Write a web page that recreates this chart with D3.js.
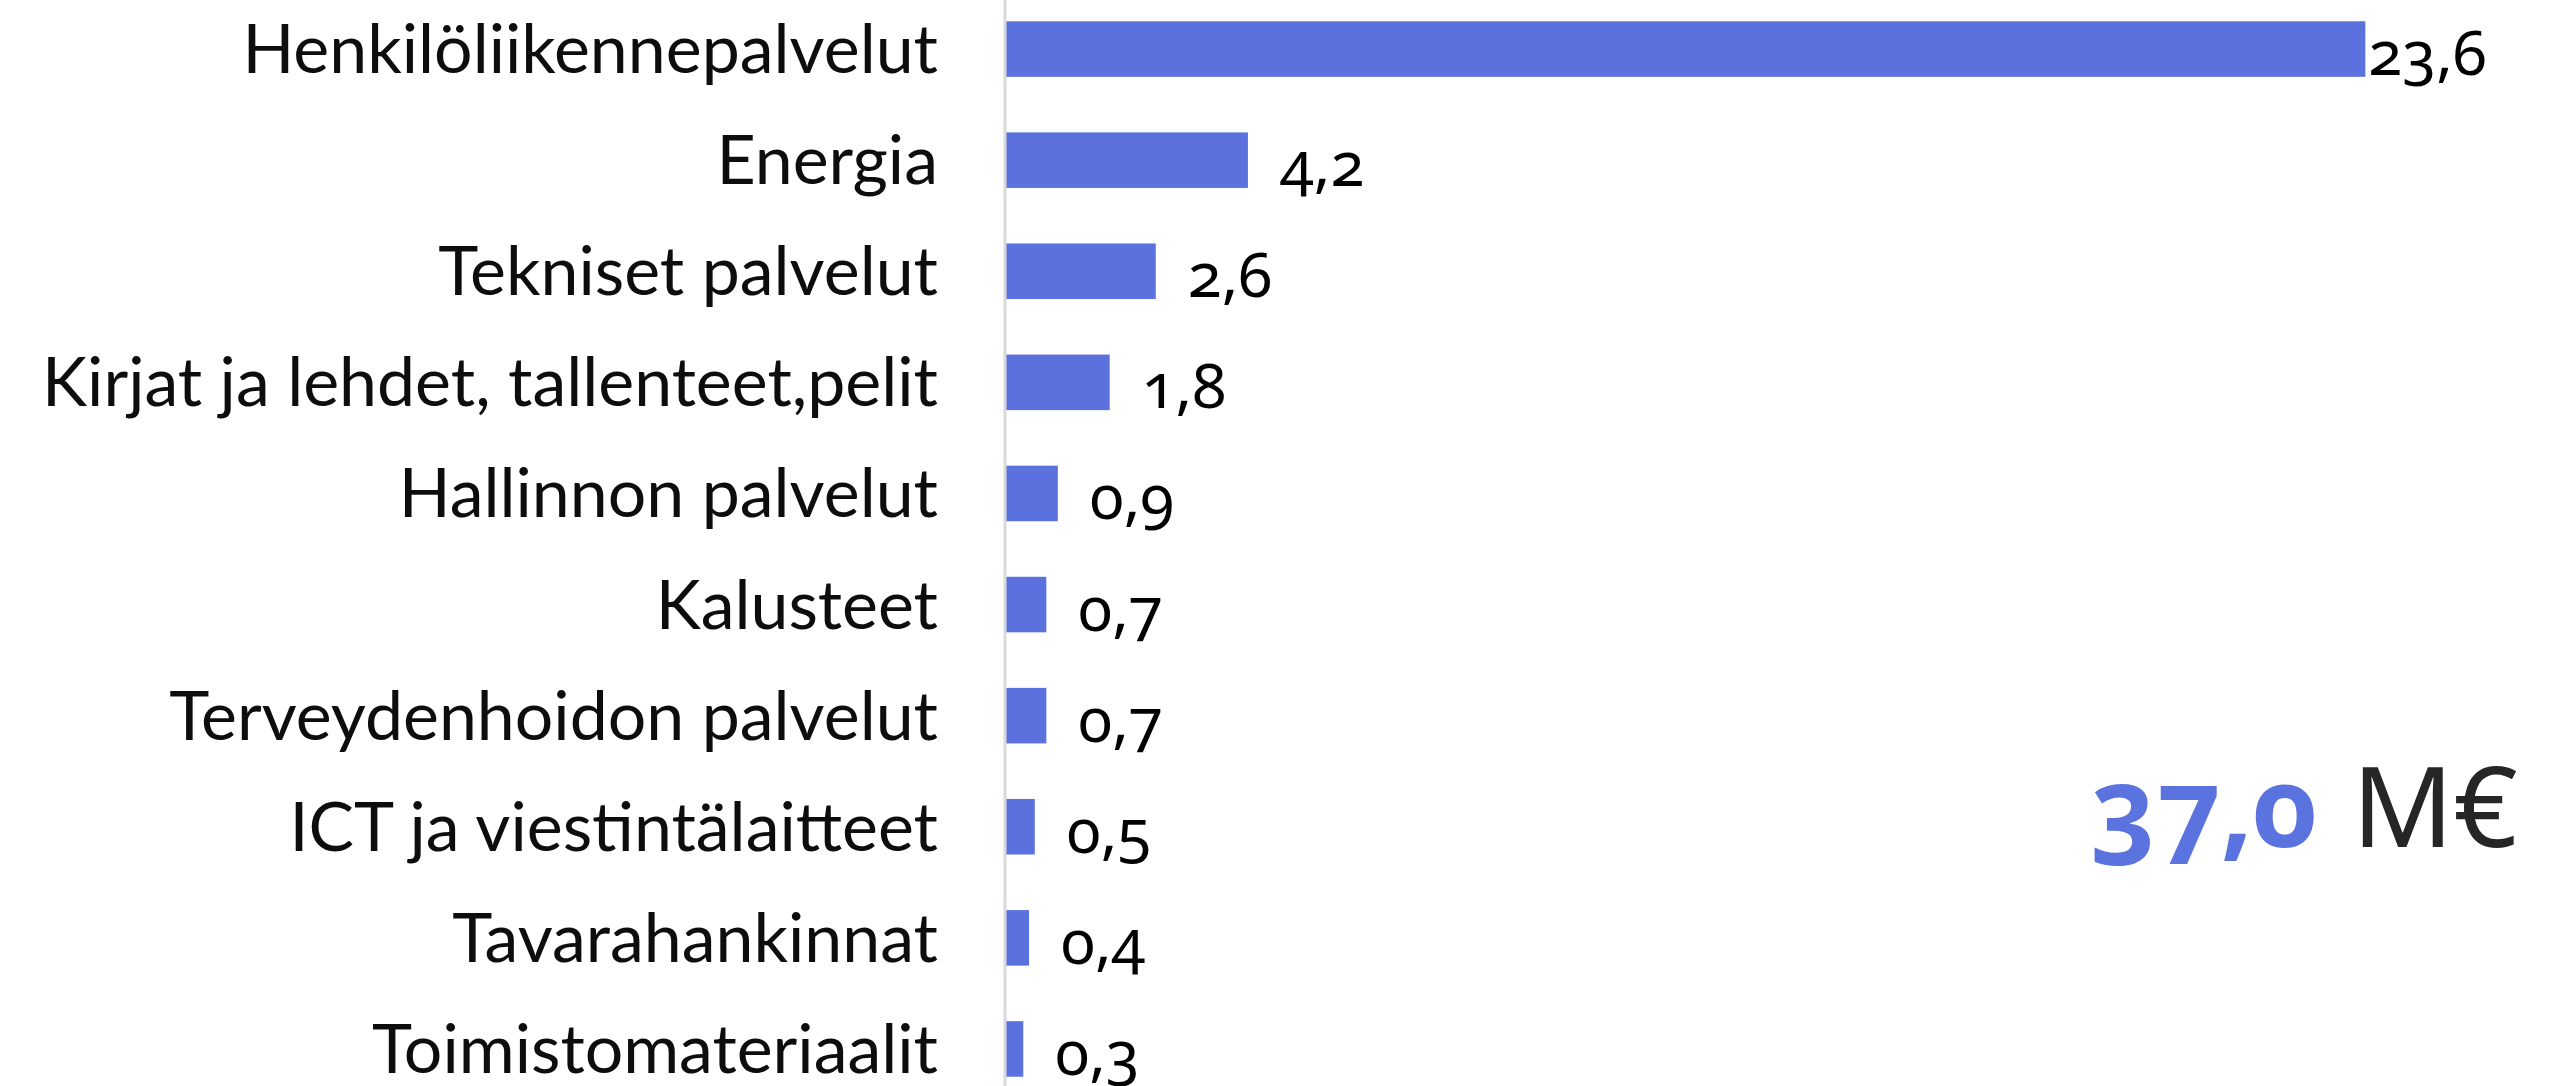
<!DOCTYPE html>
<html>
<head>
<meta charset="utf-8">
<script src="https://cdn.jsdelivr.net/npm/d3@7"></script>
<style>
  html, body { margin: 0; padding: 0; background: #fff; }
  .cat { font-family: "Liberation Sans Narrow", Lato, sans-serif; font-size: 68px; fill: #0d0d0d; }
  .val { font-family: "Noto Sans", Lato, sans-serif; font-size: 62px; fill: #000; font-variant-numeric: oldstyle-nums; }
  .total { font-family: "Noto Sans", Lato, sans-serif; font-size: 112px; font-variant-numeric: oldstyle-nums; }
</style>
</head>
<body>
<div id="chart"></div>
<script>
// categories (top to bottom) and values in M€
var categories = ["Henkilöliikennepalvelut", "Energia", "Tekniset palvelut",
  "Kirjat ja lehdet, tallenteet,pelit", "Hallinnon palvelut", "Kalusteet",
  "Terveydenhoidon palvelut", "ICT ja viestintälaitteet", "Tavarahankinnat",
  "Toimistomateriaalit"];
var values = [23.6, 4.2, 2.6, 1.8, 0.9, 0.7, 0.7, 0.5, 0.4, 0.3];
var totalValue = 37.0;
var totalUnit = "M€";

var width = 2566, height = 1086;
var margin = {top: -6.5, left: 1006};

var fi = d3.formatLocale({decimal: ",", thousands: " ", grouping: [3], currency: ["", "€"]});
var fmt = fi.format(".1f");

var svg = d3.select("#chart")
  .append("svg")
    .attr("width", width)
    .attr("height", height);

var x = d3.scaleLinear()
  .domain([0, 25])
  .range([margin.left, margin.left + 25 * 57.6]);

var y = d3.scaleBand()
  .domain(categories)
  .range([margin.top, margin.top + 1111])
  .paddingInner(0.5)
  .paddingOuter(0.25);

// bars
svg.append("g")
  .selectAll("rect")
  .data(values)
  .enter()
  .append("rect")
    .attr("x", x(0))
    .attr("y", function(d, i) { return y(categories[i]); })
    .attr("width", function(d) { return x(d) - x(0); })
    .attr("height", y.bandwidth())
    .style("fill", "#5b71de");

// vertical axis line
svg.append("line")
  .attr("x1", x(0) - 1).attr("x2", x(0) - 1)
  .attr("y1", 0).attr("y2", height)
  .style("stroke", "#d9d9d9")
  .style("stroke-width", 3);

// category labels
svg.append("g")
  .selectAll("text")
  .data(categories)
  .enter()
  .append("text")
    .attr("class", "cat")
    .attr("x", x(0) - 68)
    .attr("y", function(d) { return y(d) + y.bandwidth() / 2 + 24; })
    .attr("text-anchor", "end")
    .text(function(d) { return d; });

// value labels
var maxV = d3.max(values);
svg.append("g")
  .selectAll("text")
  .data(values)
  .enter()
  .append("text")
    .attr("class", "val")
    .attr("x", function(d) { return x(d) + (d === maxV ? 3 : 32); })
    .attr("y", function(d, i) { return y(categories[i]) + y.bandwidth() / 2 + 26; })
    .text(function(d) { return fmt(d); });

// total
var t = svg.append("text")
  .attr("class", "total")
  .attr("x", 2318)
  .attr("y", 847)
  .attr("text-anchor", "end");
t.append("tspan").style("font-weight", "bold").style("fill", "#5b73de").text(fmt(totalValue));
svg.append("text")
  .attr("class", "total")
  .attr("x", 2352)
  .attr("y", 847)
  .style("fill", "#262626")
  .text(totalUnit);
</script>
</body>
</html>
